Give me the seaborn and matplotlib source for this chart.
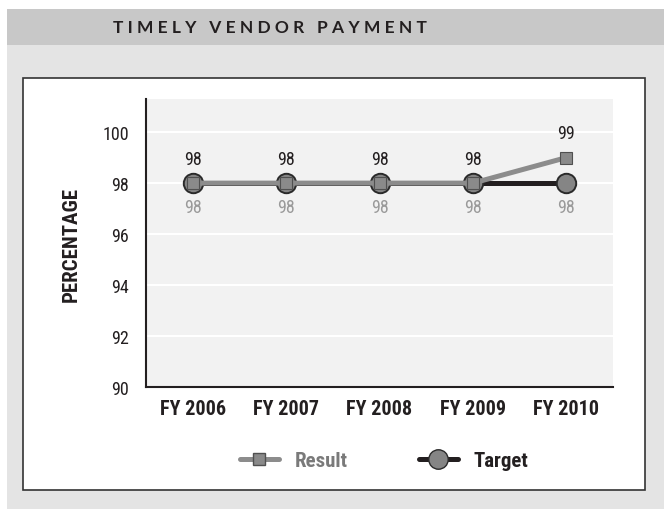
import matplotlib
matplotlib.use("Agg")
import matplotlib.pyplot as plt
import seaborn as sns
import pandas as pd
from matplotlib.patches import Rectangle
from matplotlib.lines import Line2D

years = ["FY 2006", "FY 2007", "FY 2008", "FY 2009", "FY 2010"]
result = [98, 98, 98, 98, 99]
target = [98, 98, 98, 98, 98]
yticks = [90, 92, 94, 96, 98, 100]
title = "TIMELY VENDOR PAYMENT"

sns.set_theme(style="white")
FONT = ["Roboto Condensed", "DejaVu Sans"]
plt.rcParams["font.family"] = FONT

fig = plt.figure(figsize=(6.64, 5.10), dpi=100)
W, H = 664, 510

def fx(px):
    return px / W

def fy(py):
    return (H - py) / H

# background panels
fig.patches.append(Rectangle((fx(7), fy(510)), fx(664 - 7), (510 - 46) / H,
                             transform=fig.transFigure, facecolor="#e4e4e4", edgecolor="none", zorder=0))
fig.patches.append(Rectangle((fx(7), fy(46)), fx(664 - 7), 36 / H,
                             transform=fig.transFigure, facecolor="#c8c8c8", edgecolor="none", zorder=0))
fig.patches.append(Rectangle((fx(23), fy(491)), fx(645 - 23), (491 - 79) / H,
                             transform=fig.transFigure, facecolor="white", edgecolor="#333333",
                             linewidth=1.2, zorder=0))
spaced = "   ".join(" ".join(w) for w in title.split())
fig.text(fx(270), fy(28), spaced, ha="center", va="center", fontsize=12.5,
         fontweight="bold", color="#231f20", family=["Lato", "DejaVu Sans"])

ax = fig.add_axes([fx(146), fy(388), fx(613 - 146), (388 - 100) / H])
ax.set_zorder(2)
ax.set_facecolor("#f2f2f2")

df = pd.DataFrame({
    "year": years * 2,
    "value": target + result,
    "series": ["Target"] * len(years) + ["Result"] * len(years),
})
x = list(range(len(years)))
df["x"] = x * 2

sns.lineplot(data=df[df.series == "Target"], x="x", y="value", ax=ax, color="#231f20",
             linewidth=3.6, marker="o", markersize=14, markerfacecolor="#858585",
             markeredgecolor="#2a2a2a", markeredgewidth=1.4, zorder=3)
sns.lineplot(data=df[df.series == "Result"], x="x", y="value", ax=ax, color="#8c8c8c",
             linewidth=3.6, marker="s", markersize=8.5, markerfacecolor="#8a8a8a",
             markeredgecolor="#505050", markeredgewidth=0.8, zorder=4)

for xi, v in zip(x, result):
    ax.annotate(f"{v}", (xi, v), xytext=(0, 11), textcoords="offset points",
                ha="center", va="bottom", fontsize=13, color="#231f20")
for xi, v in zip(x, target):
    ax.annotate(f"{v}", (xi, v), xytext=(0, -11), textcoords="offset points",
                ha="center", va="top", fontsize=13, color="#9a9a9a")

ax.set_xlim(-0.5, 4.5)
ax.set_ylim(90, 101.3)
ax.set_yticks(yticks)
ax.set_yticklabels([str(t) for t in yticks], fontsize=13, color="#231f20")
ax.set_xticks(x)
ax.set_xticklabels(years, fontsize=14.5, fontweight="bold", color="#231f20")
ax.tick_params(axis="both", length=0, pad=9)
ax.tick_params(axis="y", pad=12)
ax.grid(axis="y", color="white", linewidth=1.5)
ax.set_axisbelow(True)
for s in ["top", "right"]:
    ax.spines[s].set_visible(False)
for s in ["left", "bottom"]:
    ax.spines[s].set_color("#231f20")
    ax.spines[s].set_linewidth(1.5)
ax.set_xlabel("")
ax.set_ylabel("PERCENTAGE", fontsize=15, fontweight="bold", color="#231f20", labelpad=16)

handles = [
    Line2D([0], [0], color="#8c8c8c", linewidth=3.6, marker="s", markersize=8.5,
           markerfacecolor="#8a8a8a", markeredgecolor="#505050"),
    Line2D([0], [0], color="#231f20", linewidth=3.6, marker="o", markersize=14,
           markerfacecolor="#858585", markeredgecolor="#2a2a2a"),
]
leg = fig.legend(handles, ["Result", "Target"], loc="center", bbox_to_anchor=(fx(384), fy(462)),
                 ncol=2, frameon=False, fontsize=15, handlelength=1.9, columnspacing=3.4,
                 handletextpad=0.75)
for t, c in zip(leg.get_texts(), ["#7a7a7a", "#231f20"]):
    t.set_color(c)
    t.set_fontweight("bold")

fig.savefig("out.png", dpi=100)
